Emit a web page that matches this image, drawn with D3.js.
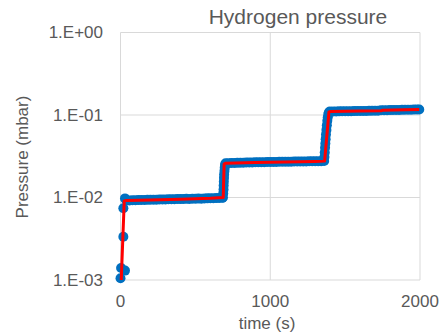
<!DOCTYPE html>
<html>
<head>
<meta charset="utf-8">
<script src="https://cdn.jsdelivr.net/npm/d3@7"></script>
<style>
  html, body { margin: 0; padding: 0; background: #fff; }
  svg { display: block; font-family: "Liberation Sans", Arial, sans-serif; }
</style>
</head>
<body>
<svg id="chart" width="440" height="336"></svg>
<script>
// Chart text
const chartTitle = "Hydrogen pressure";
const xTitle = "time (s)";
const yTitle = "Pressure (mbar)";

// Axis ticks
const xTicks = [0, 1000, 2000];
const yTicks = [1e-3, 1e-2, 1e-1, 1];
const yTickLabels = ["1.E-03", "1.E-02", "1.E-01", "1.E+00"];

// Measured samples (markers): time in s, pressure in mbar
const measuredTime = [
  0, 4, 30, 19, 19, 30,
  40, 60, 80, 100, 120, 140, 160, 180, 200, 220, 240, 260, 280, 300,
  320, 340, 360, 380, 400, 420, 440, 460, 480, 500, 520, 540, 560, 580,
  600, 620, 640, 660, 680,
  684, 686, 688, 689, 690, 691, 692, 694, 696, 698, 702,
  720, 740, 760, 780, 800, 820, 840, 860, 880, 900, 920, 940, 960, 980,
  1000, 1020, 1040, 1060, 1080, 1100, 1120, 1140, 1160, 1180, 1200, 1220,
  1240, 1260, 1280, 1300, 1320, 1340, 1360,
  1362, 1364, 1366, 1368, 1370, 1372, 1375, 1378, 1381, 1384, 1388, 1392, 1398,
  1420, 1440, 1460, 1480, 1500, 1520, 1540, 1560, 1580, 1600, 1620, 1640,
  1660, 1680, 1700, 1720, 1740, 1760, 1780, 1800, 1820, 1840, 1860, 1880,
  1900, 1920, 1940, 1960, 1980, 1995
];
const measuredPressure = [
  0.00105, 0.00140, 0.00130, 0.00335, 0.00740, 0.00975,
  0.00920, 0.00922, 0.00926, 0.00925, 0.00930, 0.00933, 0.00931, 0.00936, 0.00940, 0.00938, 0.00942, 0.00946, 0.00945, 0.00948,
  0.00951, 0.00950, 0.00955, 0.00957, 0.00956, 0.00960, 0.00963, 0.00962, 0.00966, 0.00968, 0.00970, 0.00969, 0.00973, 0.00976,
  0.00978, 0.00980, 0.00983, 0.00986, 0.00990,
  0.0100, 0.0112, 0.0125, 0.0140, 0.0155, 0.0172, 0.0190, 0.0210, 0.0230, 0.0250, 0.0260,
  0.0261, 0.0262, 0.0262, 0.0263, 0.0264, 0.0264, 0.0265, 0.0266, 0.0266, 0.0267, 0.0267, 0.0268, 0.0268, 0.0269,
  0.0269, 0.0270, 0.0270, 0.0271, 0.0271, 0.0272, 0.0272, 0.0272, 0.0273, 0.0273, 0.0274, 0.0274,
  0.0274, 0.0275, 0.0275, 0.0275, 0.0276, 0.0276, 0.0277,
  0.0310, 0.0350, 0.0400, 0.0450, 0.0510, 0.0580, 0.0660, 0.0750, 0.0850, 0.0940, 0.1030, 0.1080, 0.1100,
  0.1102, 0.1105, 0.1107, 0.1108, 0.1110, 0.1112, 0.1114, 0.1115, 0.1117, 0.1119, 0.1120, 0.1122,
  0.1123, 0.1125, 0.1127, 0.1128, 0.1140, 0.1142, 0.1144, 0.1146, 0.1148, 0.1150, 0.1152, 0.1154,
  0.1156, 0.1158, 0.1160, 0.1162, 0.1165, 0.1168
];

// Trend line: time in s, pressure in mbar
const trendTime = [5, 25, 40, 200, 400, 600, 686, 692, 700, 900, 1100, 1300, 1363, 1392, 1400, 1600, 1740, 1750, 1900, 1995];
const trendPressure = [0.00100, 0.00910, 0.00920, 0.00935, 0.00955, 0.00978, 0.0100, 0.0255, 0.0260, 0.0265, 0.0270, 0.0274, 0.0276, 0.1090, 0.1100, 0.1118, 0.1128, 0.1140, 0.1158, 0.1168];

const svg = d3.select("#chart");
const textColor = "#595959";
const gridColor = "#d9d9d9";

const x = d3.scaleLinear().domain([0, 2000]).range([120.5, 420]);
const y = d3.scaleLog().domain([1e-3, 1]).range([280, 32.5]);

// Gridlines
svg.append("g").selectAll("line.h").data(yTicks).join("line")
  .attr("x1", x(0)).attr("x2", x(2000))
  .attr("y1", d => y(d)).attr("y2", d => y(d))
  .attr("stroke", gridColor).attr("stroke-width", 1);
svg.append("g").selectAll("line.v").data(xTicks).join("line")
  .attr("x1", d => x(d)).attr("x2", d => x(d))
  .attr("y1", y(1)).attr("y2", y(1e-3))
  .attr("stroke", gridColor).attr("stroke-width", 1);

// Y tick labels
svg.append("g").selectAll("text").data(yTicks).join("text")
  .attr("x", 103).attr("y", d => y(d))
  .attr("dy", "0.35em")
  .attr("text-anchor", "end")
  .attr("font-size", 17).attr("fill", textColor)
  .text((d, i) => yTickLabels[i]);

// X tick labels
svg.append("g").selectAll("text").data(xTicks).join("text")
  .attr("x", d => x(d)).attr("y", 307)
  .attr("text-anchor", "middle")
  .attr("font-size", 17).attr("fill", textColor)
  .text(d => d3.format("d")(d));

// Clip to plot area
svg.append("clipPath").attr("id", "plot-clip")
  .append("rect").attr("x", 110).attr("y", 25).attr("width", 330).attr("height", 260);

const plot = svg.append("g").attr("clip-path", "url(#plot-clip)");

// Measured markers
plot.append("g").selectAll("circle").data(measuredTime.map((t, i) => [t, measuredPressure[i]])).join("circle")
  .attr("cx", d => x(d[0])).attr("cy", d => y(d[1]))
  .attr("r", 5)
  .attr("fill", "#0070c0");

// Trend line
const line = d3.line().x(d => x(d[0])).y(d => y(d[1]));
plot.append("path")
  .datum(trendTime.map((t, i) => [t, trendPressure[i]]))
  .attr("d", line)
  .attr("fill", "none")
  .attr("stroke", "#ff0000")
  .attr("stroke-width", 3)
  .attr("stroke-linejoin", "round");

// Titles
svg.append("text")
  .attr("x", 298).attr("y", 23.5)
  .attr("text-anchor", "middle")
  .attr("font-size", 21).attr("fill", textColor)
  .text(chartTitle);

svg.append("text")
  .attr("x", 267).attr("y", 329)
  .attr("text-anchor", "middle")
  .attr("font-size", 17).attr("fill", textColor)
  .text(xTitle);

svg.append("text")
  .attr("transform", "translate(22.5,157) rotate(-90)")
  .attr("dy", "0.35em")
  .attr("text-anchor", "middle")
  .attr("font-size", 17).attr("fill", textColor)
  .text(yTitle);
</script>
</body>
</html>
